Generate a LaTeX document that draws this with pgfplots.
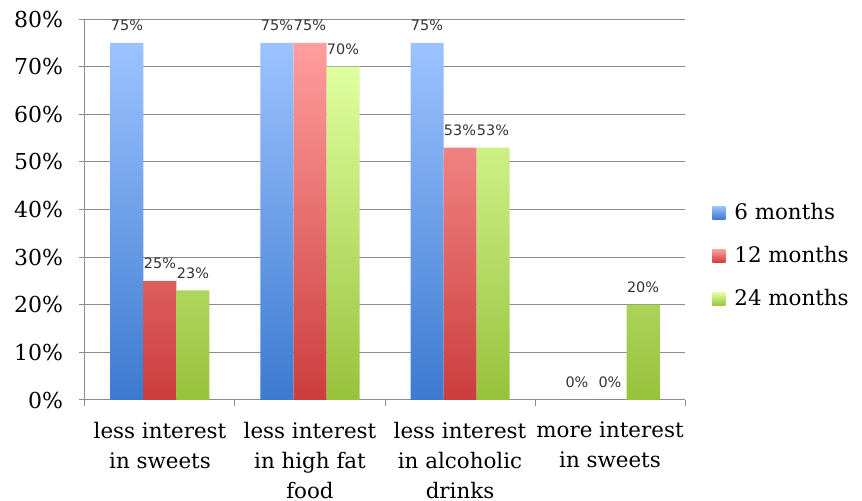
\documentclass[border=0pt]{standalone}
\usepackage{fontspec}
\setmainfont{DejaVu Serif}
\newfontfamily\labelfont{DejaVu Sans}
\usepackage{pgfplots}
\pgfplotsset{compat=1.18}
\definecolor{bluetop}{HTML}{9CC3FF}
\definecolor{bluebot}{HTML}{3C7AD0}
\definecolor{redtop}{HTML}{FF9E9E}
\definecolor{redbot}{HTML}{CC3D3D}
\definecolor{greentop}{HTML}{DFFF9F}
\definecolor{greenbot}{HTML}{97C23C}
\definecolor{gridgray}{HTML}{8C8C8C}
\begin{document}
\begin{tikzpicture}
\useasboundingbox (-42.5pt,-50.5pt) rectangle (388.5pt,200pt);
\begin{axis}[
  scale only axis, width=300pt, height=190.5pt,
  ybar=0pt, bar width=16.5pt,
  xmin=-0.5, xmax=3.5, ymin=0, ymax=80,
  xtick={-0.5,0.5,1.5,2.5,3.5},
  x tick label as interval,
  xticklabels={less interest\\in sweets, less interest\\in high fat\\food, less interest\\in alcoholic\\drinks, more interest\\in sweets},
  xticklabel style={align=center, font=\fontsize{10.7}{15}\selectfont, yshift=-4.5pt},
  ytick={0,10,...,80},
  yticklabel={\pgfmathprintnumber{\tick}\%},
  yticklabel style={font=\fontsize{11}{12}\selectfont, xshift=-4.5pt},
  /pgf/number format/assume math mode=true,
  ymajorgrids, grid style={gridgray, line width=0.5pt},
  axis x line*=bottom, axis y line*=left,
  axis line style={gridgray, line width=0.5pt},
  tick style={gridgray, line width=0.5pt},
  tick align=outside, major tick length=3pt,
  nodes near coords={\pgfmathprintnumber{\pgfplotspointmeta}\%},
  every node near coord/.append style={font=\labelfont\fontsize{7.2}{8}\selectfont, text=black!80, yshift=2.5pt},
  legend style={draw=none, fill=none, at={(1.035,0.378)}, anchor=west,
    font=\fontsize{10.7}{12}\selectfont, row sep=8pt},
  legend cell align=left,
  legend image code/.code={\path[#1,draw=none] (0pt,-3.25pt) rectangle (6.5pt,3.25pt);
    \path (0pt,0pt) -- (9pt,0pt);},
]
\addplot[draw=none, top color=bluetop, bottom color=bluebot] coordinates {(0,75) (1,75) (2,75) (3,0)};
\addplot[draw=none, top color=redtop, bottom color=redbot] coordinates {(0,25) (1,75) (2,53) (3,0)};
\addplot[draw=none, top color=greentop, bottom color=greenbot] coordinates {(0,23) (1,70) (2,53) (3,20)};
\legend{6 months, 12 months, 24 months}
\end{axis}
\end{tikzpicture}
\end{document}
